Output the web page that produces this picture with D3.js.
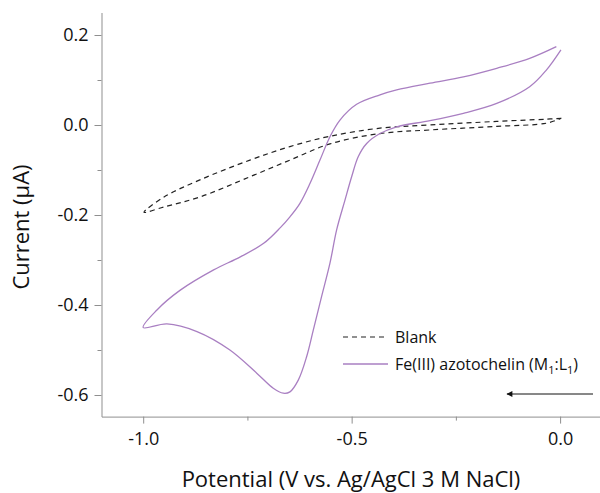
<!DOCTYPE html>
<html lang="en">
<head>
  <meta charset="UTF-8" />
  <title>Cyclic voltammogram</title>
  <script src="https://d3js.org/d3.v7.min.js"></script>
  <style>
    body { margin: 0; background: white; font-family: "Open Sans", sans-serif; }
    .axis path, .axis line { stroke: #8f8f8f; }
    .axis text { font-family: "Open Sans", sans-serif; fill: #111; }
  </style>
</head>
<body>
  <svg id="chart" width="600" height="493"></svg>

  <script>
    // Blank scan (dashed), potential in V and current in uA
    const blankV = [0.003, -0.033, -0.152, -0.312, -0.432, -0.552, -0.648, -0.744, -0.864, -0.95, -0.998,
                    -0.95, -0.864, -0.744, -0.648, -0.552, -0.432, -0.312, -0.152, -0.033, 0.003];
    const blankI = [0.015, 0.013, 0.008, 0.0, -0.007, -0.025, -0.048, -0.078, -0.122, -0.160, -0.194,
                    -0.182, -0.160, -0.115, -0.078, -0.042, -0.019, -0.011, -0.003, 0.004, 0.015];

    // Fe(III) azotochelin scan (solid), starts at 0 V going negative
    const feV = [0.002, -0.033, -0.073, -0.152, -0.232, -0.312, -0.392, -0.432, -0.464, -0.484, -0.500, -0.516,
                 -0.536, -0.552, -0.572, -0.592, -0.608, -0.628, -0.648, -0.664, -0.688, -0.727, -0.792, -0.871,
                 -0.943, -1.0,
                 -0.967, -0.911, -0.831, -0.767, -0.711, -0.671, -0.648, -0.624, -0.600, -0.576, -0.552,
                 -0.528, -0.488, -0.432, -0.392, -0.312, -0.232, -0.152, -0.073, -0.009];
    const feI = [0.167, 0.122, 0.085, 0.048, 0.026, 0.0096, -0.004, -0.019, -0.041, -0.070, -0.115, -0.167,
                 -0.233, -0.307, -0.381, -0.456, -0.515, -0.567, -0.593, -0.596, -0.585, -0.552, -0.500, -0.459,
                 -0.442, -0.450,
                 -0.411, -0.367, -0.322, -0.293, -0.263, -0.228, -0.204, -0.174, -0.130, -0.078, -0.026,
                 0.011, 0.046, 0.067, 0.078, 0.093, 0.107, 0.126, 0.148, 0.174];

    const xMajor = [-1.0, -0.5, 0.0];
    const xMinor = [-0.75, -0.25];
    const yMajor = [0.2, 0.0, -0.2, -0.4, -0.6];
    const yMinor = [0.1, -0.1, -0.3, -0.5];

    const svg = d3.select("#chart");

    const x = d3.scaleLinear().domain([-1.1, 0.095]).range([101.5, 599.7]);
    const y = d3.scaleLinear().domain([-0.648, 0.25]).range([416.6, 12.5]);

    const fmt = d => d3.format(".1f")(d).replace("\u2212", "-");

    // minor ticks first, then major axes on top
    svg.append("g").attr("class", "axis")
      .attr("transform", `translate(0,${y(-0.648)})`)
      .call(d3.axisBottom(x).tickValues(xMinor).tickSize(4).tickFormat(""))
      .call(g => g.select(".domain").remove());
    svg.append("g").attr("class", "axis")
      .attr("transform", `translate(${x(-1.1)},0)`)
      .call(d3.axisLeft(y).tickValues(yMinor).tickSize(4).tickFormat(""))
      .call(g => g.select(".domain").remove());

    svg.append("g").attr("class", "axis")
      .attr("transform", `translate(0,${y(-0.648)})`)
      .call(d3.axisBottom(x).tickValues(xMajor).tickSize(7).tickSizeOuter(0).tickPadding(9).tickFormat(fmt))
      .call(g => g.selectAll("text").attr("font-size", 18));
    svg.append("g").attr("class", "axis")
      .attr("transform", `translate(${x(-1.1)},0)`)
      .call(d3.axisLeft(y).tickValues(yMajor).tickSize(7).tickSizeOuter(0).tickPadding(6).tickFormat(fmt))
      .call(g => g.selectAll("text").attr("font-size", 18));

    const line = d3.line().x(d => x(d[0])).y(d => y(d[1])).curve(d3.curveCatmullRom.alpha(0.5));

    svg.append("path")
      .datum(blankV.map((v, i) => [v, blankI[i]]))
      .attr("d", line)
      .attr("fill", "none")
      .attr("stroke", "#222")
      .attr("stroke-width", 1.2)
      .attr("stroke-dasharray", "5,4");

    svg.append("path")
      .datum(feV.map((v, i) => [v, feI[i]]))
      .attr("d", line)
      .attr("fill", "none")
      .attr("stroke", "#a97fc2")
      .attr("stroke-width", 1.3);

    // axis titles
    svg.append("text")
      .attr("x", 351).attr("y", 487)
      .attr("text-anchor", "middle")
      .attr("font-size", 22)
      .attr("fill", "#111")
      .text("Potential (V vs. Ag/AgCl 3 M NaCl)");

    svg.append("text")
      .attr("transform", "translate(29,227) rotate(-90)")
      .attr("text-anchor", "middle")
      .attr("font-size", 22)
      .attr("fill", "#111")
      .text("Current (μA)");

    // legend
    const legend = svg.append("g").attr("font-size", 16).attr("fill", "#111");
    legend.append("line").attr("x1", 343).attr("x2", 388).attr("y1", 337).attr("y2", 337)
      .attr("stroke", "#222").attr("stroke-width", 1.2).attr("stroke-dasharray", "5,4");
    legend.append("text").attr("x", 395).attr("y", 343).text("Blank");
    legend.append("line").attr("x1", 343).attr("x2", 388).attr("y1", 364).attr("y2", 364)
      .attr("stroke", "#a97fc2").attr("stroke-width", 1.3);
    const fe = legend.append("text").attr("x", 395).attr("y", 370);
    fe.append("tspan").text("Fe(III) azotochelin (M");
    fe.append("tspan").attr("font-size", 11).attr("dy", 4).text("1");
    fe.append("tspan").attr("dy", -4).text(":L");
    fe.append("tspan").attr("font-size", 11).attr("dy", 4).text("1");
    fe.append("tspan").attr("dy", -4).text(")");

    // scan direction arrow
    svg.append("defs").append("marker")
      .attr("id", "head").attr("viewBox", "0 0 10 10")
      .attr("refX", 9).attr("refY", 5)
      .attr("markerWidth", 11).attr("markerHeight", 6).attr("markerUnits", "userSpaceOnUse")
      .attr("orient", "auto")
      .append("path").attr("d", "M0,0L10,5L0,10Z").attr("fill", "#111");
    svg.append("line")
      .attr("x1", 593).attr("x2", 507).attr("y1", 394).attr("y2", 394)
      .attr("stroke", "#111").attr("stroke-width", 1)
      .attr("marker-end", "url(#head)");
  </script>
</body>
</html>
